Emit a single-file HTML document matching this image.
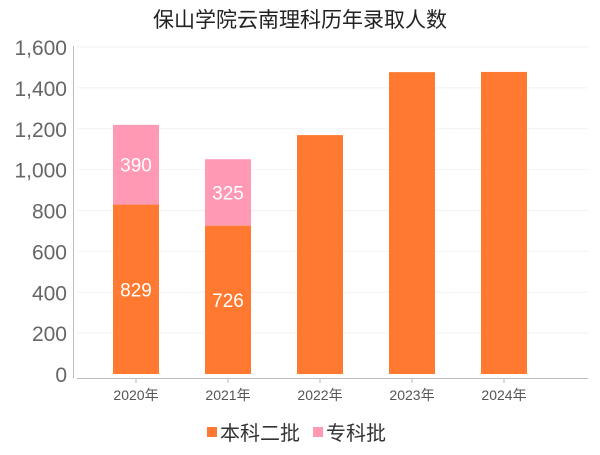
<!DOCTYPE html>
<html><head><meta charset="utf-8"><style>
body{margin:0;background:#fff;}
svg text{font-family:"Liberation Sans","Noto Sans CJK SC",sans-serif;}
</style></head><body>
<svg width="600" height="450" xmlns="http://www.w3.org/2000/svg">
<text x="300" y="27" text-anchor="middle" font-size="21" fill="#222">保山学院云南理科历年录取人数</text>
<g id="grid"></g><g id="bars"></g><g id="axes"></g>
<g>
<rect x="207" y="427" width="10" height="10" fill="#FF7A30"/>
<text x="220" y="440" font-size="20" fill="#333">本科二批</text>
<rect x="313" y="427" width="10" height="10" fill="#FF99B4"/>
<text x="326" y="440" font-size="20" fill="#333">专科批</text>
</g>
</svg>
<script>
const categories=["2020年","2021年","2022年","2023年","2024年"];
const benke=[829,726,1169,1477,1478];
const zhuanke=[390,325,0,0,0];
const yTicks=[0,200,400,600,800,1000,1200,1400,1600];
const NS="http://www.w3.org/2000/svg";
const y0=374,yTop=47,yMax=1600,xL=90,step=92,bw=46;
const y=v=>y0-(v/yMax)*(y0-yTop);
const xc=i=>xL+46+i*step;
function mk(tag,attrs,parent,text){const e=document.createElementNS(NS,tag);for(const k in attrs)e.setAttribute(k,attrs[k]);if(text!=null)e.textContent=text;parent.appendChild(e);return e;}
const grid=document.getElementById('grid'),bars=document.getElementById('bars'),axes=document.getElementById('axes');
yTicks.forEach(t=>{
 if(t>0){const l=mk('line',{x1:77,x2:588,y1:y(t),y2:y(t),stroke:'#f2f2f2'},grid);
 
 }
 const tx=mk('text',{x:67,y:y(t)+8,'text-anchor':'end','font-size':21,fill:'#666'},axes,t.toLocaleString('en-US'));
 
 
});
const ya=mk('line',{x1:73.5,x2:73.5,y1:46,y2:378,stroke:'#bbb'},axes);


const xa=mk('line',{x1:77,x2:588,y1:378.5,y2:378.5,stroke:'#bbb'},axes);


categories.forEach((c,i)=>{
 const cx=xc(i);
 const tk=mk('line',{x1:cx,x2:cx,y1:378,y2:383,stroke:'#bbb'},axes);
 
 
 const lb=mk('text',{x:cx,y:400,'text-anchor':'middle','font-size':14,fill:'#555'},axes,c);
 
 
 const b=mk('rect',{x:cx-bw/2,y:y(benke[i]),width:bw,height:y0-y(benke[i]),fill:'#FF7A30'},bars);
 
 
 if(zhuanke[i]>0){
  const top=benke[i]+zhuanke[i];
  const z=mk('rect',{x:cx-bw/2,y:y(top),width:bw,height:y(benke[i])-y(top),fill:'#FF99B4'},bars);
  
  
  const zl=mk('text',{x:cx,y:(y(top)+y(benke[i]))/2+7,'text-anchor':'middle','font-size':19,fill:'#fff'},bars,zhuanke[i]);
  
  
  const bl=mk('text',{x:cx,y:(y(benke[i])+y0)/2+7,'text-anchor':'middle','font-size':19,fill:'#fff'},bars,benke[i]);
  
  
 }
});
</script>
</body></html>
